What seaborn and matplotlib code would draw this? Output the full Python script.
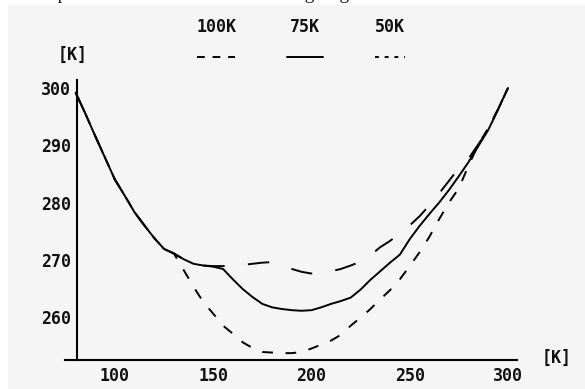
import pandas as pd
import seaborn as sns
import matplotlib.pyplot as plt
from matplotlib.lines import Line2D
from matplotlib.patches import Rectangle

# values, both axes in [K]
x_100k = [80, 85, 90, 95, 100, 105, 110, 115, 120, 125, 130, 135, 140, 145, 150, 155, 160,
          165, 170, 175, 180, 185, 190, 195, 200, 205, 210, 215, 220, 225, 230, 235, 240,
          245, 250, 255, 260, 265, 270, 275, 280, 285, 290, 295, 300]
y_100k = [299.2, 295.5, 291.6, 287.8, 284.0, 281.2, 278.3, 276.0, 273.8, 271.9, 271.1, 270.1,
          269.3, 269.0, 268.9, 268.9, 269.0, 269.1, 269.3, 269.5, 269.6, 269.0, 268.4, 267.9,
          267.6, 267.7, 268.0, 268.4, 269.0, 269.7, 270.8, 272.2, 273.3, 274.6, 276.0, 277.6,
          279.5, 281.6, 283.8, 286.0, 287.7, 290.2, 292.8, 296.3, 300.0]

x_75k = x_100k
y_75k = [299.2, 295.5, 291.6, 287.8, 284.0, 281.2, 278.3, 276.0, 273.8, 271.9, 271.1, 270.1,
         269.3, 269.0, 268.8, 268.4, 266.6, 264.9, 263.5, 262.3, 261.7, 261.4, 261.2, 261.1,
         261.2, 261.7, 262.3, 262.8, 263.4, 264.8, 266.5, 268.0, 269.5, 270.9, 273.6, 275.9,
         278.0, 280.0, 282.2, 284.6, 287.1, 289.9, 292.7, 296.3, 300.0]

x_50k = x_100k
y_50k = [299.2, 295.5, 291.6, 287.8, 284.0, 281.2, 278.3, 276.0, 273.8, 271.9, 271.1, 268.2,
         265.3, 262.6, 260.6, 258.5, 257.1, 255.6, 254.6, 253.9, 253.8, 253.7, 253.7, 253.9,
         254.5, 255.2, 255.9, 256.9, 258.5, 259.9, 261.4, 263.1, 264.7, 266.6, 268.9, 271.3,
         274.0, 277.1, 280.0, 282.5, 286.5, 290.2, 293.0, 296.3, 300.0]

series_names = ['100K', '75K', '50K']
x_ticks = [100, 150, 200, 250, 300]
y_ticks = [260, 270, 280, 290, 300]

df = pd.concat([
    pd.DataFrame({'x': x_100k, 'T': y_100k, 'case': '100K'}),
    pd.DataFrame({'x': x_75k, 'T': y_75k, 'case': '75K'}),
    pd.DataFrame({'x': x_50k, 'T': y_50k, 'case': '50K'}),
])

sns.set_style('white')
plt.rcParams['font.family'] = ['DejaVu Sans Mono']
label_font = dict(family='DejaVu Sans Mono', weight='bold', size=12, color='#111111')

fig = plt.figure(figsize=(5.85, 3.89), dpi=100, facecolor='white')
fig.add_artist(Rectangle((8 / 585, 0), 1, 1 - 5 / 389, transform=fig.transFigure,
                         facecolor='#f5f5f5', edgecolor='none', zorder=-10))
# bottom edge of the page text that sits above the chart in the source
fig.text(-0.01, 1 + 1 / 389, 'ntal temperature as a function of the height  gi',
         family='Liberation Serif', size=14, va='baseline', ha='left', color='#222222')

ax = fig.add_axes([65 / 585, 1 - 360 / 389, 452 / 585, 280 / 389])
ax.set_facecolor('none')

dash_map = {'100K': (11, 12), '75K': '', '50K': (5.5, 6.5)}
sns.lineplot(data=df, x='x', y='T', hue='case', style='case', dashes=dash_map,
             palette=['black'] * 3, linewidth=1.4, legend=False, sort=False,
             estimator=None, ax=ax)

ax.set_xlim(74.6, 304.6)
ax.set_ylim(252.5, 301.4)
for s in ['top', 'right']:
    ax.spines[s].set_visible(False)
ax.spines['left'].set_position(('data', 80.5))
for s in ['left', 'bottom']:
    ax.spines[s].set_linewidth(1.5)
    ax.spines[s].set_color('black')

ax.set_xticks(x_ticks)
ax.set_xticks(range(90, 301, 10), minor=True)
ax.set_yticks(y_ticks)
ax.set_xticklabels([str(v) for v in x_ticks], **label_font)
ax.set_yticklabels([str(v) for v in y_ticks], **label_font)
ax.tick_params(axis='x', which='both', direction='in', length=3, width=1.2, pad=5)
ax.tick_params(axis='y', which='both', length=0, pad=4)
ax.set_xlabel('')
ax.set_ylabel('')

# axis unit labels
fig.text(73 / 585, 1 - 55 / 389, '[K]', ha='center', va='center', **label_font)
fig.text(557 / 585, 1 - 358 / 389, '[K]', ha='center', va='center', **label_font)

# legend: names on top, line samples underneath
legend_x = [(197, 235), (287, 323), (375, 405)]
legend_style = [(0, (4, 4)), '-', (0, (2, 3))]
for name, (x0, x1), ls in zip(series_names, legend_x, legend_style):
    fig.text((x0 + x1) / 2 / 585, 1 - 27 / 389, name, ha='center', va='center', **label_font)
    fig.add_artist(Line2D([x0 / 585, x1 / 585], [1 - 57 / 389] * 2, transform=fig.transFigure,
                          color='black', linewidth=1.4, linestyle=ls))

fig.savefig('out.png', dpi=100, facecolor=fig.get_facecolor())
